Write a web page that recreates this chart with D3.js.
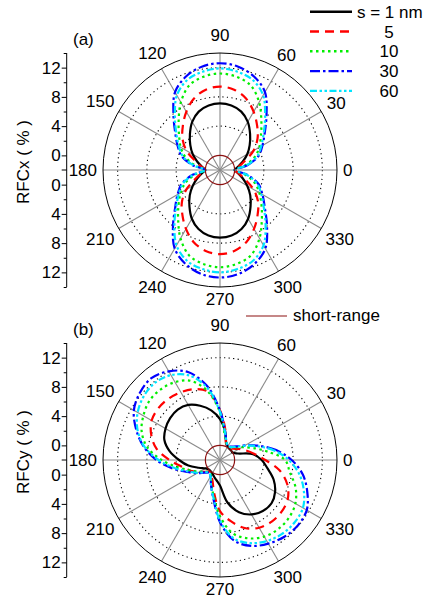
<!DOCTYPE html>
<html lang="en">
<head>
<meta charset="utf-8">
<title>RFCx / RFCy polar plots</title>
<script src="https://d3js.org/d3.v7.min.js"></script>
<style>
  body { margin: 0; background: #fff; }
  svg text { font-family: "Liberation Sans", Arial, sans-serif; font-size: 17px; fill: #000; }
</style>
</head>
<body>
<div id="vis"></div>
<script>
// angle of each sample, degrees
const angles = [0, 10, 20, 30, 40, 50, 60, 70, 80, 90, 100, 110, 120, 130, 140, 150, 160, 170,
                180, 190, 200, 210, 220, 230, 240, 250, 260, 270, 280, 290, 300, 310, 320, 330, 340, 350];

// (a) RFCx (%)
const rfcx_s1  = [0, 0.5, 1.3, 2.3, 3.3, 4.4, 5.6, 6.5, 6.95, 7.1, 6.95, 6.5, 5.6, 4.4, 3.3, 2.3, 1.3, 0.5,
                  0, 0.5, 1.3, 2.3, 3.4, 4.5, 5.7, 6.6, 7.1, 7.25, 7.1, 6.6, 5.7, 4.5, 3.4, 2.3, 1.3, 0.5];
const rfcx_s5  = [0, 0.6, 1.6, 3.3, 4.7, 5.9, 7.2, 8.4, 9.15, 9.4, 9.15, 8.4, 7.2, 5.9, 4.7, 3.3, 1.6, 0.6,
                  0, 0.6, 1.6, 3.3, 4.8, 6.0, 7.3, 8.5, 9.25, 9.5, 9.25, 8.5, 7.3, 6.0, 4.8, 3.3, 1.6, 0.6];
const rfcx_s10 = [0, 1.4, 3.0, 4.2, 5.3, 6.8, 8.7, 10.3, 10.95, 11.2, 10.95, 10.3, 8.7, 6.8, 5.3, 4.2, 3.0, 1.4,
                  0, 1.4, 3.0, 4.2, 5.4, 6.9, 8.8, 10.4, 11.05, 11.3, 11.05, 10.4, 8.8, 6.9, 5.4, 4.2, 3.0, 1.4];
const rfcx_s30 = [0, 1.8, 3.6, 4.7, 6.0, 7.9, 10.3, 11.6, 12.35, 12.6, 12.35, 11.6, 10.3, 7.9, 6.0, 4.7, 3.6, 1.8,
                  0, 1.8, 3.6, 4.7, 6.0, 8.0, 10.4, 11.7, 12.45, 12.7, 12.45, 11.7, 10.4, 8.0, 6.0, 4.7, 3.6, 1.8];
const rfcx_s60 = [0, 1.7, 3.4, 4.5, 5.8, 7.6, 9.8, 11.1, 11.65, 11.9, 11.65, 11.1, 9.8, 7.6, 5.8, 4.5, 3.4, 1.7,
                  0, 1.7, 3.4, 4.5, 5.8, 7.7, 9.9, 11.2, 11.75, 12.0, 11.75, 11.2, 9.9, 7.7, 5.8, 4.5, 3.4, 1.7];

// (b) RFCy (%)
const rfcy_s1  = [3.7, 2.6, 0.6, 0.0, 0.0, 0.0, 0.1, 0.5, 2.0, 3.6, 4.9, 5.9, 6.7, 7.0, 6.9, 6.6, 6.1, 5.0,
                  3.6, 2.4, 1.1, 0.3, 0.0, 0.0, 0.1, 0.4, 0.8, 1.5, 3.9, 5.6, 6.6, 7.1, 7.2, 6.7, 5.8, 4.6];
const rfcy_s5  = [4.2, 2.8, 1.8, 1.0, 0.4, 0.1, 0.1, 0.4, 2.2, 4.8, 7.5, 8.3, 8.7, 8.95, 9.0, 8.8, 8.0, 6.8,
                  4.9, 3.3, 2.3, 1.3, 0.5, 0.1, 0.4, 1.0, 2.6, 5.0, 6.5, 7.9, 8.7, 9.0, 9.0, 8.7, 7.8, 6.3];
const rfcy_s10 = [6.9, 4.6, 2.8, 1.5, 0.7, 0.3, 0.2, 0.5, 1.6, 4.5, 7.5, 9.5, 10.3, 10.6, 10.6, 10.1, 9.4, 8.1,
                  6.0, 3.8, 2.2, 1.2, 0.5, 0.2, 0.5, 1.5, 3.0, 5.7, 8.2, 9.4, 10.1, 10.35, 10.3, 9.9, 9.0, 7.7];
const rfcy_s30 = [7.8, 5.8, 3.7, 2.0, 0.9, 0.4, 0.2, 0.6, 2.0, 4.8, 8.3, 10.8, 12.0, 12.6, 12.3, 11.6, 10.2, 8.6,
                  6.7, 4.6, 2.8, 1.6, 0.7, 0.3, 0.6, 1.6, 3.3, 6.5, 9.2, 10.5, 11.2, 11.7, 11.9, 11.7, 10.7, 9.5];
const rfcy_s60 = [7.4, 5.5, 3.5, 1.9, 0.8, 0.3, 0.2, 0.6, 1.9, 4.6, 8.0, 10.3, 11.4, 11.8, 11.6, 11.0, 10.0, 8.5,
                  6.4, 4.3, 2.6, 1.5, 0.6, 0.3, 0.6, 1.6, 3.2, 6.3, 8.9, 10.1, 10.8, 11.2, 11.3, 11.1, 10.2, 9.0];

const shortRange = 0;                    // short-range contribution, both panels
const sizes = ["s = 1 nm", "5", "10", "30", "60"];
const angleTicks = [0, 30, 60, 90, 120, 150, 180, 210, 240, 270, 300, 330];
const radialTicks = [0, 4, 8, 12];
const radialMinor = [2, 6, 10, 14];

const colors = ["#000000", "#ff0000", "#00ee00", "#0000ff", "#00e5ff"];
const dashes = [null, "9,6", "2.5,3.5", "10,3,2.5,3", "7,2.5,2.5,2.5,2.5,2.5"];

const width = 424, height = 603;
const R = 117;
const axisX = 66.7;

const svg = d3.select("#vis").append("svg")
    .attr("width", width)
    .attr("height", height);

svg.append("rect").attr("width", width).attr("height", height).attr("fill", "#fff");

const r = d3.scaleLinear().domain([-2, 14]).range([0, R]);

function drawPolar(cx, cy, series, panel, ylabel) {
    const g = svg.append("g").attr("transform", "translate(" + cx + "," + cy + ")");

    // dotted grid circles
    g.selectAll(".grid").data(radialTicks.slice(1)).enter()
        .append("circle")
        .attr("r", d => r(d))
        .attr("fill", "none")
        .attr("stroke", "#000")
        .attr("stroke-width", 1.1)
        .attr("stroke-dasharray", "1.2,3.3");

    // spokes
    g.selectAll(".spoke").data(angleTicks).enter()
        .append("line")
        .attr("x2", d => R * Math.cos(d * Math.PI / 180))
        .attr("y2", d => -R * Math.sin(d * Math.PI / 180))
        .attr("stroke", "#8a8a8a")
        .attr("stroke-width", 1.1);

    g.append("circle")
        .attr("r", R)
        .attr("fill", "none")
        .attr("stroke", "#000")
        .attr("stroke-width", 1);

    const line = d3.lineRadial()
        .angle(d => (90 - d[0]) * Math.PI / 180)
        .radius(d => r(d[1]))
        .curve(d3.curveCatmullRomClosed.alpha(0.5));

    series.forEach((vals, i) => {
        g.append("path")
            .datum(angles.map((a, j) => [a, vals[j]]))
            .attr("d", line)
            .attr("fill", "none")
            .attr("stroke", colors[i])
            .attr("stroke-width", 2.2)
            .attr("stroke-dasharray", dashes[i]);
    });

    g.append("circle")
        .attr("r", r(shortRange))
        .attr("fill", "none")
        .attr("stroke", "#8b1010")
        .attr("stroke-width", 1.2);

    // angle labels
    angleTicks.forEach(a => {
        const c = Math.cos(a * Math.PI / 180), s = Math.sin(a * Math.PI / 180);
        const t = g.append("text")
            .attr("text-anchor", "middle")
            .attr("dy", "0.36em")
            .text(a);
        const w = t.node().getComputedTextLength();
        const pad = 6 + (s > 0.9 ? 6 : 0);
        const rr = R + pad + (w / 2) * Math.abs(c) + 6.1 * Math.abs(s);
        t.attr("x", rr * c).attr("y", -rr * s);
    });

    // radial axis on the left
    const ax = svg.append("g").attr("transform", "translate(" + axisX + ",0)");
    ax.append("line")
        .attr("y1", cy - R).attr("y2", cy + R)
        .attr("stroke", "#000").attr("stroke-width", 1);

    const yUp = d3.scaleLinear().domain([-2, 14]).range([cy, cy - R]);
    const yDn = d3.scaleLinear().domain([-2, 14]).range([cy, cy + R]);
    [yUp, yDn].forEach(sc => {
        const major = ax.append("g")
            .call(d3.axisLeft(sc).tickValues(radialTicks).tickSize(5).tickSizeOuter(0).tickPadding(1));
        const minor = ax.append("g")
            .call(d3.axisLeft(sc).tickValues(radialMinor).tickSize(3).tickSizeOuter(0).tickFormat(""));
        [major, minor].forEach(m => {
            m.select(".domain").remove();
            m.attr("font-size", null).attr("font-family", null);
        });
    });
    ax.append("line").attr("x1", -5).attr("y1", cy).attr("y2", cy)
        .attr("stroke", "#000");

    svg.append("text")
        .attr("transform", "translate(29," + (cy - 8) + ") rotate(-90)")
        .attr("text-anchor", "middle")
        .text(ylabel);

    svg.append("text")
        .attr("x", 73)
        .attr("y", cy - 125)
        .text(panel);
}

drawPolar(220, 170, [rfcx_s1, rfcx_s5, rfcx_s10, rfcx_s30, rfcx_s60], "(a)", "RFCx ( % )");
drawPolar(220, 460, [rfcy_s1, rfcy_s5, rfcy_s10, rfcy_s30, rfcy_s60], "(b)", "RFCy ( % )");

// legend for sizes
const lg = svg.append("g");
sizes.forEach((s, i) => {
    const y = 11.7 + i * 19.8;
    lg.append("line")
        .attr("x1", 310).attr("x2", 352)
        .attr("y1", y).attr("y2", y)
        .attr("stroke", colors[i])
        .attr("stroke-width", 2.4)
        .attr("stroke-dasharray", dashes[i]);
    lg.append("text")
        .attr("x", i === 0 ? 357 : 389)
        .attr("y", y + 6)
        .attr("text-anchor", i === 0 ? "start" : "middle")
        .text(s);
});

// short-range legend
svg.append("line")
    .attr("x1", 246).attr("x2", 287)
    .attr("y1", 316).attr("y2", 316)
    .attr("stroke", "#8b1010").attr("stroke-width", 1.2);
svg.append("text")
    .attr("x", 293).attr("y", 321)
    .text("short-range");
</script>
</body>
</html>
